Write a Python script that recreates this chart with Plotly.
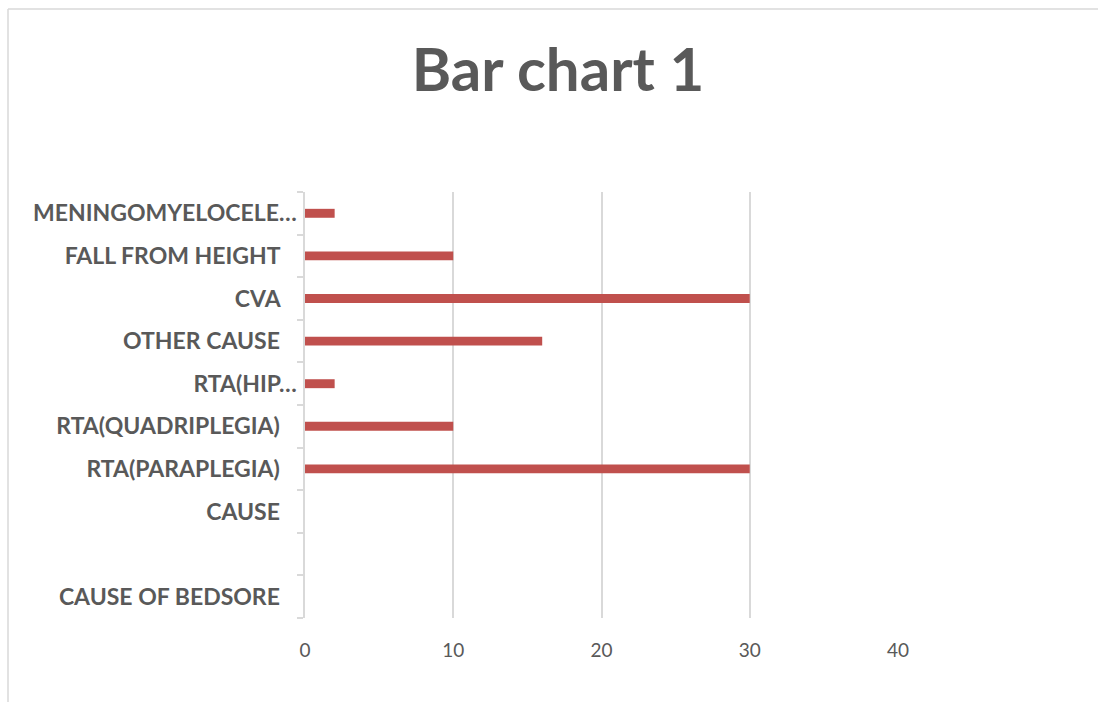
import plotly.graph_objects as go

categories = ["CAUSE OF BEDSORE", " ", "CAUSE", "RTA(PARAPLEGIA)", "RTA(QUADRIPLEGIA)",
              "RTA(HIP…", "OTHER CAUSE", "CVA", "FALL FROM HEIGHT", "MENINGOMYELOCELE…"]
values = [0, 0, 0, 30, 10, 2, 16, 30, 10, 2]
x_ticks = [0, 10, 20, 30, 40]

W, H = 1098, 702
L, R, T, B = 305, 200, 192, 84
pw, ph = W - L - R, H - T - B

def px_to_paper(px, py):
    return (px - L) / pw, (H - B - py) / ph

# tick text: labels not truncated get trailing padding like the original
ticktext = [c if c.endswith("…") else c + "\u00a0" * 3 for c in categories]

fig = go.Figure()
fig.add_trace(go.Bar(
    y=categories, x=values, orientation="h",
    marker=dict(color="#C0504D", line=dict(width=0)),
    width=0.21,
))

x0, y0 = px_to_paper(8, 9)
x1, _ = px_to_paper(W + 5, 9)
_, y1 = px_to_paper(8, H + 5)
border = dict(type="line", xref="paper", yref="paper", line=dict(color="#D9D9D9", width=1.5), layer="below")

fig.update_layout(
    width=W, height=H, autosize=False,
    margin=dict(l=L, r=R, t=T, b=B, pad=0),
    paper_bgcolor="white", plot_bgcolor="white",
    showlegend=False,
    title=dict(text="<b>Bar chart 1</b>", x=558 / W, xanchor="center",
               y=1 - 70 / H, yanchor="middle", yref="container",
               font=dict(family="Lato", size=60, color="#595959")),
    xaxis=dict(range=[0, 40], tickvals=x_ticks, ticktext=[str(v) for v in x_ticks],
               showgrid=True, gridcolor="#D9D9D9", gridwidth=1.5,
               zeroline=False, showline=False, ticks="",
               tickfont=dict(family="Lato", size=19, color="#595959"),
               ticklabelstandoff=19, fixedrange=True),
    yaxis=dict(type="category", categoryorder="array", categoryarray=categories,
               tickvals=categories, ticktext=ticktext,
               range=[-0.5, len(categories) - 0.5],
               showgrid=False, zeroline=False,
               showline=True, linecolor="#D9D9D9", linewidth=1.5,
               ticks="outside", tickson="boundaries", ticklen=6, tickcolor="#D9D9D9", tickwidth=1.5,
               tickfont=dict(family="Lato", size=23, color="#595959", weight="bold"),
               ticklabelstandoff=2, fixedrange=True),
    shapes=[
        dict(border, x0=x0, y0=y0, x1=x1, y1=y0),
        dict(border, x0=x0, y0=y0, x1=x0, y1=y1),
    ],
)

fig.write_html("out.html")
